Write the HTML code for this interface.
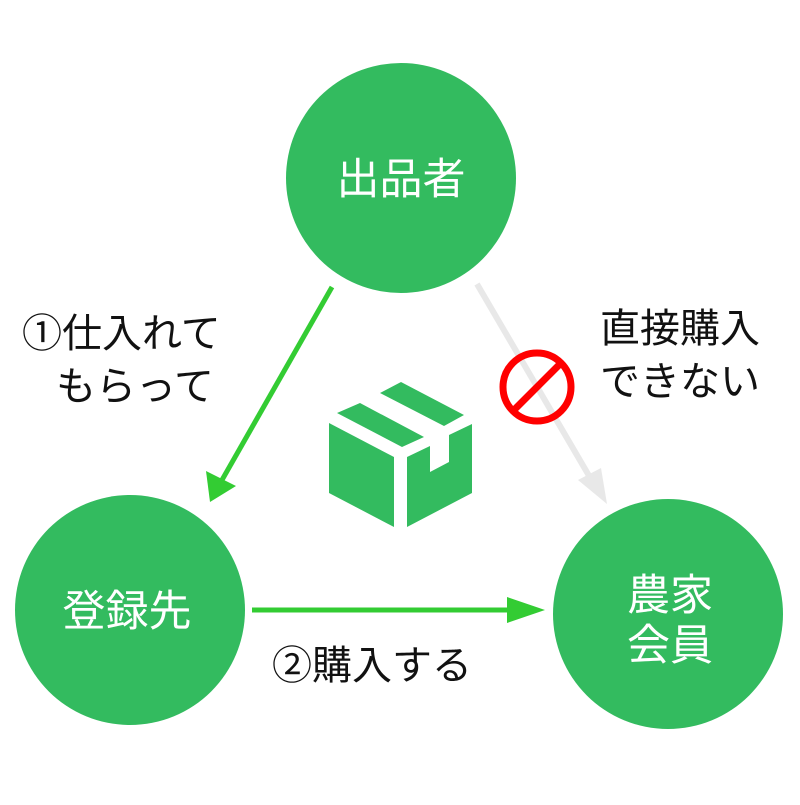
<!DOCTYPE html>
<html><head><meta charset="utf-8"><style>
body{margin:0;background:#fff}
text{font-family:"Liberation Sans","Noto Sans CJK JP",sans-serif}
</style></head><body>
<svg width="800" height="800" viewBox="0 0 800 800" xmlns="http://www.w3.org/2000/svg">
<circle cx="401" cy="178" r="115" fill="#33bb5f"/>
<circle cx="130" cy="610" r="115" fill="#33bb5f"/>
<circle cx="668" cy="614" r="115" fill="#33bb5f"/>
<g fill="#fff" font-size="43" text-anchor="middle">
<text x="401" y="194">出品者</text>
<text x="127" y="626">登録先</text>
<text x="670" y="610">農家</text>
<text x="670" y="660">会員</text>
</g>
<line x1="477" y1="284" x2="595" y2="486" stroke="#e8e8e8" stroke-width="6"/>
<polygon points="607,504 578,480 601,468" fill="#e8e8e8"/>
<line x1="332" y1="287" x2="222" y2="480" stroke="#3c3" stroke-width="5"/>
<polygon points="210,502 206,471 236,486" fill="#3c3"/>
<line x1="252" y1="610" x2="520" y2="610" stroke="#3c3" stroke-width="5"/>
<polygon points="545,610 507,597 507,623" fill="#3c3"/>
<circle cx="537" cy="387" r="34" fill="none" stroke="#f00" stroke-width="7"/>
<line x1="560" y1="364" x2="514" y2="410" stroke="#f00" stroke-width="7"/>
<g fill="#33bb5f">
<polygon points="329,423 394,457 394,527 329,493"/>
<polygon points="407,457 430,446 430,472 449,462 449,435 472,424 472,493 407,527"/>
<polygon points="337,413 360,403 424,437 402,447"/>
<polygon points="380,393 401,382 464,415 444,426"/>
</g>
<g fill="#111" font-size="40">
<text x="22" y="347">①仕入れて</text>
<text x="56" y="400">もらって</text>
<text x="600" y="342">直接購入</text>
<text x="600" y="395">できない</text>
<text x="272" y="679">②購入する</text>
</g>
</svg>
</body></html>
